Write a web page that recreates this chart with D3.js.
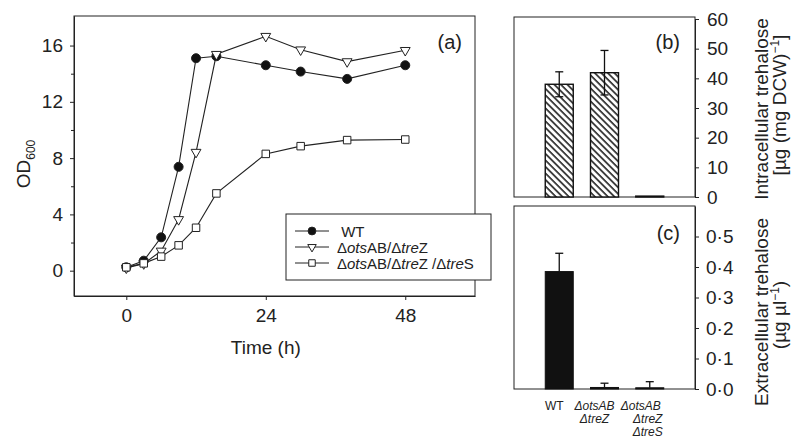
<!DOCTYPE html>
<html>
<head>
<meta charset="utf-8">
<script src="https://cdn.jsdelivr.net/npm/d3@7"></script>
<style>
  body { margin: 0; background: #fff; }
  svg { font-family: "Liberation Sans", Arial, sans-serif; }
  .axis path, .axis line { stroke: #222; }
  .axis text { font-size: 19px; fill: #222; }
</style>
</head>
<body>
<div id="vis"></div>
<script>

var width = 796,
  height = 440;

// Growth curves (a)
var times = [ 0, 3, 6, 9, 12, 15.5, 24, 30, 38, 48 ];
var odWT = [ 0.24, 0.71, 2.37, 7.38, 15.1, 15.24, 14.6, 14.15, 13.63, 14.6 ];
var odOtsTreZ = [ 0.2, 0.5, 1.4, 3.64, 8.42, 15.38, 16.66, 15.7, 14.86, 15.66 ];
var odOtsTreZTreS = [ 0.24, 0.52, 1.0, 1.8, 3.05, 5.49, 8.3, 8.85, 9.28, 9.32 ];
var xTicksA = [ 0, 24, 48 ];
var yTicksA = [ 0, 4, 8, 12, 16 ];

// Trehalose bars (b), (c)
var strains = [ 'WT', 'otsAB/treZ', 'otsAB/treZ/treS' ];
var intracellular = [ 38.0, 41.9, 0.3 ];
var intracellularErr = [ 4.2, 7.5, 0 ];
var extracellular = [ 0.385, 0.005, 0.004 ];
var extracellularErr = [ 0.06, 0.014, 0.02 ];
var yTicksB = [ 0, 10, 20, 30, 40, 50, 60 ];
var yTicksC = [ 0, 0.1, 0.2, 0.3, 0.4, 0.5 ];

var svg = d3.select( '#vis' ).append( 'svg' )
  .attr( 'width', width )
  .attr( 'height', height );

// hatch pattern for panel b
svg.append( 'defs' ).append( 'pattern' )
  .attr( 'id', 'hatch' )
  .attr( 'patternUnits', 'userSpaceOnUse' )
  .attr( 'width', 4.6 )
  .attr( 'height', 4.6 )
  .attr( 'patternTransform', 'rotate(-45)' )
  .call( p => {
    p.append( 'rect' ).attr( 'width', 4.6 ).attr( 'height', 4.6 ).attr( 'fill', '#fff' );
    p.append( 'line' )
      .attr( 'x1', 1 ).attr( 'y1', 0 ).attr( 'x2', 1 ).attr( 'y2', 4.6 )
      .attr( 'stroke', '#111' ).attr( 'stroke-width', 1.5 );
  } );

/* Panel (a) */

var xA = d3.scaleLinear().domain( [ -9, 60 ] ).range( [ 74, 475 ] );
var yA = d3.scaleLinear().domain( [ -1.8, 18.1 ] ).range( [ 296, 16 ] );

svg.append( 'rect' )
  .attr( 'x', 74 ).attr( 'y', 16 )
  .attr( 'width', 475 - 74 ).attr( 'height', 296 - 16 )
  .attr( 'fill', 'none' ).attr( 'stroke', '#222' );

svg.append( 'g' )
  .attr( 'class', 'axis' )
  .attr( 'transform', 'translate(0,296)' )
  .call( d3.axisBottom( xA ).tickValues( xTicksA ).tickSize( 4 ).tickPadding( 9 ).tickSizeOuter( 0 ) );

svg.append( 'g' )
  .attr( 'class', 'axis' )
  .attr( 'transform', 'translate(74,0)' )
  .call( d3.axisLeft( yA ).tickValues( yTicksA ).tickSize( 4 ).tickPadding( 7 ).tickSizeOuter( 0 ) );

// minor ticks every 2
svg.append( 'g' )
  .attr( 'class', 'axis' )
  .attr( 'transform', 'translate(74,0)' )
  .call( d3.axisLeft( yA ).tickValues( d3.range( 0, 18, 2 ).filter( v => v % 4 ) ).tickSize( 3 ).tickFormat( '' ).tickSizeOuter( 0 ) );

svg.selectAll( '.axis path.domain' ).attr( 'stroke', 'none' );

svg.append( 'text' )
  .attr( 'x', ( xA( 0 ) + xA( 48 ) ) / 2 )
  .attr( 'y', 354 )
  .attr( 'text-anchor', 'middle' )
  .style( 'font-size', '19px' )
  .attr( 'fill', '#222' )
  .text( 'Time (h)' );

var odLabel = svg.append( 'text' )
  .attr( 'transform', 'translate(30,164)rotate(-90)' )
  .attr( 'text-anchor', 'middle' )
  .style( 'font-size', '19px' )
  .attr( 'fill', '#222' );
odLabel.append( 'tspan' ).text( 'OD' );
odLabel.append( 'tspan' ).attr( 'dy', 5 ).style( 'font-size', '12px' ).text( '600' );

svg.append( 'text' )
  .attr( 'x', 462 ).attr( 'y', 49 )
  .attr( 'text-anchor', 'end' )
  .style( 'font-size', '20px' )
  .attr( 'fill', '#222' )
  .text( '(a)' );

var line = d3.line()
  .x( ( d, i ) => xA( times[ i ] ) )
  .y( d => yA( d ) );

var series = [
  { values: odWT, symbol: d3.symbolCircle, size: 64, fill: '#111', rotate: 0 },
  { values: odOtsTreZ, symbol: d3.symbolTriangle, size: 42, fill: '#fff', rotate: 180 },
  { values: odOtsTreZTreS, symbol: d3.symbolSquare, size: 56, fill: '#fff', rotate: 0 }
];

series.forEach( s => {
  svg.append( 'path' )
    .datum( s.values )
    .attr( 'd', line )
    .attr( 'fill', 'none' )
    .attr( 'stroke', '#222' )
    .attr( 'stroke-width', 1.1 );
} );

series.forEach( s => {
  svg.selectAll( null )
    .data( s.values )
    .enter().append( 'path' )
      .attr( 'd', d3.symbol( s.symbol, s.size ) )
      .attr( 'transform', ( d, i ) => 'translate(' + xA( times[ i ] ) + ',' + yA( d ) + ')rotate(' + s.rotate + ')' )
      .attr( 'fill', s.fill )
      .attr( 'stroke', '#222' )
      .attr( 'stroke-width', 1 );
} );

// Legend
var legend = svg.append( 'g' );

legend.append( 'rect' )
  .attr( 'x', 286 ).attr( 'y', 214 )
  .attr( 'width', 205 ).attr( 'height', 66 )
  .attr( 'fill', '#fff' ).attr( 'stroke', '#222' );

var legendLabels = [
  [ [ ' WT', false ] ],
  [ [ 'Δ', false ], [ 'ots', true ], [ 'AB/Δ', false ], [ 'tre', true ], [ 'Z', false ] ],
  [ [ 'Δ', false ], [ 'ots', true ], [ 'AB/Δ', false ], [ 'tre', true ], [ 'Z /Δ', false ], [ 'tre', true ], [ 'S', false ] ]
];
var legendY = [ 231, 247, 263 ];

series.forEach( ( s, i ) => {
  legend.append( 'line' )
    .attr( 'x1', 295 ).attr( 'x2', 329 )
    .attr( 'y1', legendY[ i ] ).attr( 'y2', legendY[ i ] )
    .attr( 'stroke', '#222' );
  legend.append( 'path' )
    .attr( 'd', d3.symbol( s.symbol, s.size * 0.75 ) )
    .attr( 'transform', 'translate(312,' + legendY[ i ] + ')rotate(' + s.rotate + ')' )
    .attr( 'fill', s.fill )
    .attr( 'stroke', '#222' );
  var t = legend.append( 'text' )
    .attr( 'x', 337 ).attr( 'y', legendY[ i ] + 5.5 )
    .style( 'font-size', '15px' )
    .attr( 'fill', '#222' )
    .attr( 'xml:space', 'preserve' );
  legendLabels[ i ].forEach( part => {
    t.append( 'tspan' )
      .style( 'font-style', part[ 1 ] ? 'italic' : 'normal' )
      .text( part[ 0 ] );
  } );
} );

/* Panels (b) and (c) */

var xB = d3.scalePoint().domain( strains ).range( [ 514, 695 ] ).padding( 1 );
var barW = 28;

var yB = d3.scaleLinear().domain( [ 0, 60 ] ).range( [ 197, 19 ] );
var yC = d3.scaleLinear().domain( [ 0, 0.6 ] ).range( [ 389, 206 ] );

// frames
svg.append( 'rect' )
  .attr( 'x', 514 ).attr( 'y', 17 )
  .attr( 'width', 695 - 514 ).attr( 'height', 197 - 17 )
  .attr( 'fill', 'none' ).attr( 'stroke', '#222' );

svg.append( 'rect' )
  .attr( 'x', 514 ).attr( 'y', 206 )
  .attr( 'width', 695 - 514 ).attr( 'height', 389 - 206 )
  .attr( 'fill', 'none' ).attr( 'stroke', '#222' );

// bars (b)
svg.selectAll( 'rect.intra' )
  .data( intracellular )
  .enter().append( 'rect' )
    .attr( 'class', 'intra' )
    .attr( 'x', ( d, i ) => xB( strains[ i ] ) - barW / 2 )
    .attr( 'y', d => yB( d ) )
    .attr( 'width', barW )
    .attr( 'height', d => yB( 0 ) - yB( d ) )
    .attr( 'fill', 'url(#hatch)' )
    .attr( 'stroke', '#111' )
    .attr( 'stroke-width', 1.4 );

intracellular.forEach( ( d, i ) => {
  if ( !intracellularErr[ i ] ) return;
  var cx = xB( strains[ i ] ),
    e = intracellularErr[ i ];
  var g = svg.append( 'g' ).attr( 'stroke', '#111' ).attr( 'stroke-width', 1.3 );
  g.append( 'line' ).attr( 'x1', cx ).attr( 'x2', cx ).attr( 'y1', yB( d + e ) ).attr( 'y2', yB( d - e ) );
  g.append( 'line' ).attr( 'x1', cx - 4 ).attr( 'x2', cx + 4 ).attr( 'y1', yB( d + e ) ).attr( 'y2', yB( d + e ) );
  g.append( 'line' ).attr( 'x1', cx - 4 ).attr( 'x2', cx + 4 ).attr( 'y1', yB( d - e ) ).attr( 'y2', yB( d - e ) );
} );

// bars (c)
svg.selectAll( 'rect.extra' )
  .data( extracellular )
  .enter().append( 'rect' )
    .attr( 'class', 'extra' )
    .attr( 'x', ( d, i ) => xB( strains[ i ] ) - barW / 2 )
    .attr( 'y', d => yC( d ) )
    .attr( 'width', barW )
    .attr( 'height', d => yC( 0 ) - yC( d ) )
    .attr( 'fill', '#111' )
    .attr( 'stroke', '#111' )
    .attr( 'stroke-width', 1 );

extracellular.forEach( ( d, i ) => {
  var cx = xB( strains[ i ] ),
    e = extracellularErr[ i ];
  var g = svg.append( 'g' ).attr( 'stroke', '#111' ).attr( 'stroke-width', 1.3 );
  g.append( 'line' ).attr( 'x1', cx ).attr( 'x2', cx ).attr( 'y1', yC( d + e ) ).attr( 'y2', yC( d ) );
  g.append( 'line' ).attr( 'x1', cx - 4 ).attr( 'x2', cx + 4 ).attr( 'y1', yC( d + e ) ).attr( 'y2', yC( d + e ) );
} );

// right axes
svg.append( 'g' )
  .attr( 'class', 'axis' )
  .attr( 'transform', 'translate(695,0)' )
  .call( d3.axisRight( yB ).tickValues( yTicksB ).tickSize( 4 ).tickPadding( 8 ).tickSizeOuter( 0 ) );

svg.append( 'g' )
  .attr( 'class', 'axis' )
  .attr( 'transform', 'translate(695,0)' )
  .call( d3.axisRight( yC ).tickValues( yTicksC ).tickSize( 4 ).tickPadding( 7 ).tickSizeOuter( 0 )
    .tickFormat( d => d3.format( '.1f' )( d ).replace( '.', '·' ) ) );

svg.selectAll( '.axis path.domain' ).attr( 'stroke', 'none' );

svg.append( 'text' )
  .attr( 'x', 680 ).attr( 'y', 49 )
  .attr( 'text-anchor', 'end' )
  .style( 'font-size', '20px' )
  .attr( 'fill', '#222' )
  .text( '(b)' );

svg.append( 'text' )
  .attr( 'x', 680 ).attr( 'y', 240 )
  .attr( 'text-anchor', 'end' )
  .style( 'font-size', '20px' )
  .attr( 'fill', '#222' )
  .text( '(c)' );

// axis titles
function rotatedTitle( x, y, parts ) {
  var t = svg.append( 'text' )
    .attr( 'transform', 'translate(' + x + ',' + y + ')rotate(-90)' )
    .attr( 'text-anchor', 'middle' )
    .style( 'font-size', '19px' )
    .attr( 'fill', '#222' );
  parts.forEach( p => {
    var s = t.append( 'tspan' ).text( p[ 0 ] );
    if ( p[ 1 ] ) s.attr( 'dy', p[ 1 ] );
    if ( p[ 2 ] ) s.style( 'font-size', p[ 2 ] );
  } );
}

rotatedTitle( 768, 109, [ [ 'Intracellular trehalose' ] ] );
rotatedTitle( 786, 105, [ [ '[µg (mg DCW)' ], [ '−1', -7, '12px' ], [ ']', 7 ] ] );
rotatedTitle( 768, 312, [ [ 'Extracellular trehalose' ] ] );
rotatedTitle( 786, 315, [ [ '(µg µl' ], [ '−1', -7, '12px' ], [ ')', 7 ] ] );

// category labels under (c)
var catLabels = [
  [ [ 'WT', false, -5 ] ],
  [ [ 'ΔotsAB', true, -10 ], [ 'ΔtreZ', true, -10 ] ],
  [ [ 'ΔotsAB', true, -9 ], [ 'ΔtreZ', true, -2 ], [ 'ΔtreS', true, -2 ] ]
];

strains.forEach( ( s, i ) => {
  catLabels[ i ].forEach( ( l, j ) => {
    svg.append( 'text' )
      .attr( 'x', xB( s ) + l[ 2 ] )
      .attr( 'y', 410 + j * 13 )
      .attr( 'text-anchor', 'middle' )
      .style( 'font-size', '12px' )
      .style( 'font-style', l[ 1 ] ? 'italic' : 'normal' )
      .attr( 'fill', '#222' )
      .text( l[ 0 ] );
  } );
} );

</script>
</body>
</html>
